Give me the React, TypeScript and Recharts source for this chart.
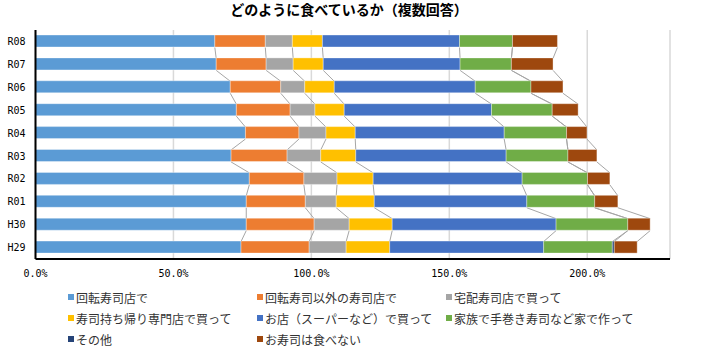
import React from 'react';
import * as RC from 'recharts';
import { BarChart, Bar, XAxis, YAxis, CartesianGrid, Customized } from 'recharts';

const categories = ['R08', 'R07', 'R06', 'R05', 'R04', 'R03', 'R02', 'R01', 'H30', 'H29'];

const kaitenten = [65.0, 65.5, 70.6, 72.8, 76.1, 70.9, 77.5, 76.4, 76.4, 74.5];
const kaitenIgai = [18.3, 18.1, 18.3, 19.5, 19.4, 20.3, 19.8, 21.4, 24.6, 24.7];
const takuhai = [9.8, 9.8, 8.7, 9.0, 9.8, 12.2, 12.0, 11.2, 12.7, 13.4];
const mochikaeri = [10.9, 10.9, 10.7, 10.6, 10.6, 12.7, 13.1, 13.8, 15.6, 15.8];
const supermarket = [49.7, 49.6, 51.1, 53.4, 54.0, 54.5, 54.0, 55.3, 59.4, 55.8];
const temaki = [19.2, 18.6, 20.2, 22.0, 22.6, 22.4, 23.7, 24.6, 26.0, 24.9];
const sonota = [0, 0, 0, 0, 0, 0, 0, 0, 0, 0.7];
const tabenai = [16.3, 15.1, 11.6, 9.4, 7.4, 10.5, 8.1, 8.4, 8.1, 8.3];

const seriesNames = [
  '回転寿司店で',
  '回転寿司以外の寿司店で',
  '宅配寿司店で買って',
  '寿司持ち帰り専門店で買って',
  'お店（スーパーなど）で買って',
  '家族で手巻き寿司など家で作って',
  'その他',
  'お寿司は食べない',
];
const seriesValues = [kaitenten, kaitenIgai, takuhai, mochikaeri, supermarket, temaki, sonota, tabenai];
const seriesColors = ['#5B9BD5', '#ED7D31', '#A5A5A5', '#FFC000', '#4472C4', '#70AD47', '#264478', '#9E480E'];

const xTicks = [0, 50, 100, 150, 200];
const X_MAX = 230;
const title = 'どのように食べているか（複数回答）';

const W = 706;
const H = 354;
const MARGIN = { top: 30, right: 36, bottom: 75, left: 0 };
const Y_AXIS_W = 35.5;
const X_AXIS_H = 20;
const BAR_SIZE = 12;

const data = categories.map((c, i) => {
  const row: Record<string, any> = { cat: c };
  seriesValues.forEach((vals, s) => {
    row['s' + s] = vals[i];
  });
  return row;
});

const cumulative = seriesValues.map((_, s) =>
  categories.map((_, i) => {
    let sum = 0;
    for (let k = 0; k <= s; k++) sum += seriesValues[k][i];
    return sum;
  })
);

const RCany = RC as any;
const hasPlotArea = typeof RCany.usePlotArea === 'function';

function usePlot() {
  if (hasPlotArea) {
    const p = RCany.usePlotArea();
    if (p) return p;
  }
  return {
    x: MARGIN.left + Y_AXIS_W,
    y: MARGIN.top,
    width: W - MARGIN.left - MARGIN.right - Y_AXIS_W,
    height: H - MARGIN.top - MARGIN.bottom - X_AXIS_H,
  };
}

function SeriesLines() {
  const p = usePlot();
  const n = categories.length;
  const step = p.height / n;
  const px = p.width / X_MAX;
  const lines: React.ReactNode[] = [];
  cumulative.forEach((cum, s) => {
    for (let i = 0; i < n - 1; i++) {
      const x1 = p.x + cum[i] * px;
      const y1 = p.y + i * step + (step + BAR_SIZE) / 2;
      const x2 = p.x + cum[i + 1] * px;
      const y2 = p.y + (i + 1) * step + (step - BAR_SIZE) / 2;
      lines.push(
        <line key={s + '-' + i} x1={x1} y1={y1} x2={x2} y2={y2} stroke="#A6A6A6" strokeWidth={1} />
      );
    }
  });
  return <g>{lines}</g>;
}

const tickFont = { fontFamily: '"DejaVu Sans Mono", monospace', fontSize: 10, fill: '#000' };

export default function App() {
  return (
    <div style={{ position: 'absolute', left: 0, top: 0, width: W, height: H, background: '#fff' }}>
      <div
        style={{
          position: 'absolute',
          left: 0,
          top: 1,
          width: 698,
          textAlign: 'center',
          fontFamily: '"Noto Sans CJK JP", sans-serif',
          fontWeight: 'bold',
          fontSize: 14,
          lineHeight: '16px',
          color: '#000',
        }}
      >
        {title}
      </div>
      <BarChart
        width={W}
        height={H}
        data={data}
        layout="vertical"
        margin={MARGIN}
        barSize={BAR_SIZE}
      >
        <CartesianGrid horizontal={false} stroke="#D9D9D9" strokeWidth={1.5} />
        <XAxis
          type="number"
          domain={[0, X_MAX]}
          ticks={xTicks}
          allowDataOverflow
          height={X_AXIS_H}
          tickLine={false}
          tickSize={0}
          tickMargin={11}
          axisLine={{ stroke: '#000', strokeWidth: 2 }}
          tick={tickFont}
          tickFormatter={(v: number) => v.toFixed(1) + '%'}
        />
        <YAxis
          type="category"
          dataKey="cat"
          width={Y_AXIS_W}
          tickLine={false}
          tickSize={0}
          tickMargin={10}
          axisLine={{ stroke: '#000', strokeWidth: 2 }}
          tick={tickFont}
        />
        {seriesNames.map((name, s) => (
          <Bar
            key={name}
            dataKey={'s' + s}
            name={name}
            stackId="a"
            fill={seriesColors[s]}
            stroke="#ffffff"
            strokeOpacity={0.35}
            strokeWidth={1}
            isAnimationActive={false}
          />
        ))}
        <Customized component={SeriesLines} />
      </BarChart>
      <div
        style={{
          position: 'absolute',
          left: 0,
          top: 288,
          width: W,
          height: 66,
          fontFamily: '"Noto Sans CJK JP", sans-serif',
          fontSize: 12,
          color: '#333',
        }}
      >
        {seriesNames.map((name, s) => {
          const col = s % 3;
          const row = Math.floor(s / 3);
          const lefts = [68, 257, 446];
          return (
            <div
              key={name}
              style={{
                position: 'absolute',
                left: lefts[col],
                top: row * 21,
                height: 18,
                display: 'flex',
                alignItems: 'center',
                whiteSpace: 'nowrap',
              }}
            >
              <span
                style={{
                  display: 'inline-block',
                  width: 6,
                  height: 6,
                  background: seriesColors[s],
                  marginRight: 2,
                }}
              />
              <span>{name}</span>
            </div>
          );
        })}
      </div>
    </div>
  );
}
